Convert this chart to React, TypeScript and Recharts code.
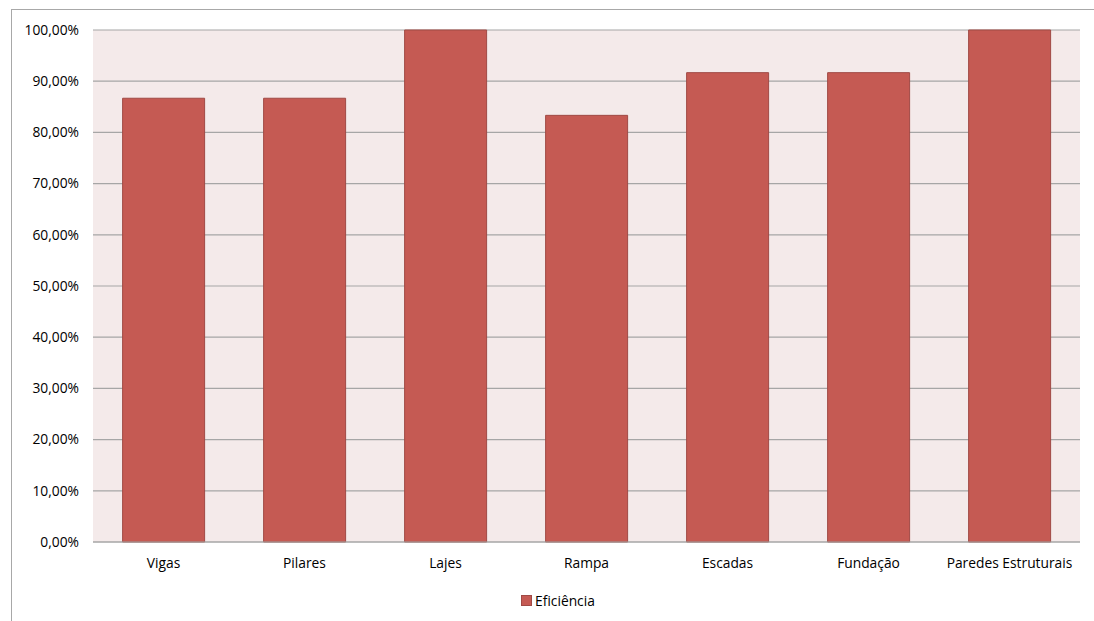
import React from "react";
import { BarChart, Bar, XAxis, YAxis, CartesianGrid, Legend } from "recharts";

const categories = ["Vigas", "Pilares", "Lajes", "Rampa", "Escadas", "Fundação", "Paredes Estruturais"];
const eficiencia = [0.8667, 0.8667, 1.0, 0.8333, 0.9167, 0.9167, 1.0];
const yTicks = [0, 0.1, 0.2, 0.3, 0.4, 0.5, 0.6, 0.7, 0.8, 0.9, 1.0];
const seriesName = "Eficiência";

const data = categories.map((c, i) => ({ name: c, value: eficiencia[i] }));

const fmt = (v: number) => (v * 100).toFixed(2).replace(".", ",") + "%";

const FONT = "'Open Sans', 'Liberation Sans', sans-serif";

const LegendContent = () => (
  <div style={{ position: "relative", height: 39, width: 1094 }}>
    <div
      style={{
        position: "absolute",
        left: 521,
        top: 9,
        display: "flex",
        alignItems: "center",
        fontFamily: FONT,
        fontSize: 13.8,
        color: "#000",
      }}
    >
      <span
        style={{
          display: "inline-block",
          width: 9,
          height: 9,
          background: "#C55A53",
          border: "1px solid #A04A45",
          marginRight: 3,
        }}
      />
      <span>{seriesName}</span>
    </div>
  </div>
);

export default function App() {
  return (
    <div style={{ position: "absolute", left: 0, top: 0, width: 1094, height: 621, background: "#fff", overflow: "hidden" }}>
      <div
        style={{
          position: "absolute",
          left: 11,
          top: 9,
          width: 1200,
          height: 800,
          borderTop: "1.5px solid #A8A8A8",
          borderLeft: "1.5px solid #A8A8A8",
        }}
      />
      <div style={{ position: "absolute", left: 0, top: 0 }}>
        <BarChart
          width={1094}
          height={621}
          data={data}
          margin={{ top: 30, right: 14, bottom: 0, left: 0 }}
          barCategoryGap="21%"
        >
          <CartesianGrid vertical={false} horizontal={true} stroke="#A6A6A6" strokeWidth={1.2} fill="#F4EAEA" />
          <XAxis
            dataKey="name"
            height={40}
            tickLine={false}
            tickSize={0}
            tickMargin={16}
            axisLine={{ stroke: "#A6A6A6" }}
            tick={{ fill: "#000", fontSize: 13.8, fontFamily: FONT }}
            interval={0}
          />
          <YAxis
            width={93}
            domain={[0, 1]}
            ticks={yTicks}
            tickFormatter={fmt}
            axisLine={false}
            tickLine={false}
            tickSize={0}
            tickMargin={14}
            tick={{ fill: "#000", fontSize: 13.8, fontFamily: FONT }}
          />
          <Legend verticalAlign="bottom" height={39} content={<LegendContent />} wrapperStyle={{ left: 0, width: 1094 }} />
          <Bar dataKey="value" name={seriesName} fill="#C55A53" stroke="#A04A45" strokeWidth={1} isAnimationActive={false} />
        </BarChart>
      </div>
    </div>
  );
}
